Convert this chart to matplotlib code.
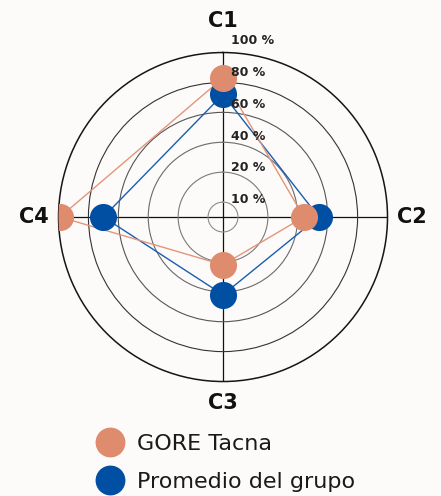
import numpy as np
import matplotlib
matplotlib.use("Agg")
import matplotlib.pyplot as plt
from matplotlib.lines import Line2D

plt.rcParams['font.family'] = 'DejaVu Sans'

categorias = ['C1', 'C2', 'C3', 'C4']
gore_tacna = [83, 44, 22, 99]
promedio_grupo = [72, 54, 42, 70]
series = ['GORE Tacna', 'Promedio del grupo']

# non-linear radial scale: rings are evenly spaced but labelled 10, 20, 40, ...
escala_vals = [0, 10, 20, 40, 60, 80, 100]
escala_pos = [0, 0.5, 1.5, 2.5, 3.5, 4.5, 5.5]
ticks = [10, 20, 40, 60, 80, 100]

col_gore = '#DF8B6E'
col_prom = '#004FA3'
col_gore_line = '#E3957A'
col_prom_line = '#1A5DB0'
ring_cols = ['#8c8c8c', '#7a7a7a', '#6a6a6a', '#555555', '#333333']


def to_r(v):
    return np.interp(v, escala_vals, escala_pos)


fig = plt.figure(figsize=(4.41, 4.96), dpi=100, facecolor='#fdfbfa')
ax = fig.add_axes([0.1327, 0.2308, 0.746, 0.6633], projection='polar')
ax.set_facecolor('none')
ax.set_theta_zero_location('N')
ax.set_theta_direction(-1)

theta = np.deg2rad([0, 90, 180, 270])
th_closed = np.append(theta, theta[0])

for vals, lc in [(promedio_grupo, col_prom_line), (gore_tacna, col_gore_line)]:
    r = to_r(np.array(vals, dtype=float))
    ax.plot(th_closed, np.append(r, r[0]), color=lc, lw=1.0, zorder=3)

for vals, c in [(promedio_grupo, col_prom), (gore_tacna, col_gore)]:
    r = to_r(np.array(vals, dtype=float))
    ax.plot(theta, r, 'o', color=c, ms=19.5, mec='none', zorder=5)

ax.set_rlim(0, 5.5)
ax.set_rticks(to_r(np.array(ticks[:-1], dtype=float)))
ax.set_yticklabels([])
for gl, c in zip(ax.yaxis.get_gridlines(), ring_cols):
    gl.set_color(c)
    gl.set_linewidth(0.8)
    gl.set_linestyle('-')
ax.spines['polar'].set_color('#151515')
ax.spines['polar'].set_linewidth(1.1)

ax.set_xticks(theta)
ax.set_xticklabels([])
ax.tick_params(axis='x', length=0)
for gl in ax.xaxis.get_gridlines():
    gl.set_color('#111111')
    gl.set_linewidth(0.9)
    gl.set_linestyle('-')

# ring labels sit just right of the vertical spoke
lab_r = [0.57, 1.67, 2.7, 3.77, 4.82, 5.9]
for t, lr in zip(ticks, lab_r):
    ax.annotate('%d %%' % t, xy=(0, lr), xytext=(8, 0), textcoords='offset pixels',
                ha='left', va='center', fontsize=9, fontweight='bold',
                color='#222222', annotation_clip=False, zorder=6)

# category labels
ax.text(0, 6.35, categorias[0], ha='center', va='baseline', fontsize=15, fontweight='bold', color='#111111')
ax.text(np.pi / 2, 5.82, categorias[1], ha='left', va='center', fontsize=15, fontweight='bold', color='#111111')
ax.text(np.pi, 5.89, categorias[2], ha='center', va='top', fontsize=15, fontweight='bold', color='#111111')
ax.text(3 * np.pi / 2, 5.82, categorias[3], ha='right', va='center', fontsize=15, fontweight='bold', color='#111111')

handles = [Line2D([], [], marker='o', ls='none', ms=21.5, mec='none', color=col_gore),
           Line2D([], [], marker='o', ls='none', ms=21.5, mec='none', color=col_prom)]
fig.legend(handles, series, loc='upper left', bbox_to_anchor=(0.225, 0.126),
           frameon=False, fontsize=16, handlelength=0.97, handletextpad=0.72,
           labelspacing=0.83, borderpad=0, borderaxespad=0, labelcolor='#1a1a1a')

fig.savefig('out.png', dpi=100, facecolor=fig.get_facecolor())
